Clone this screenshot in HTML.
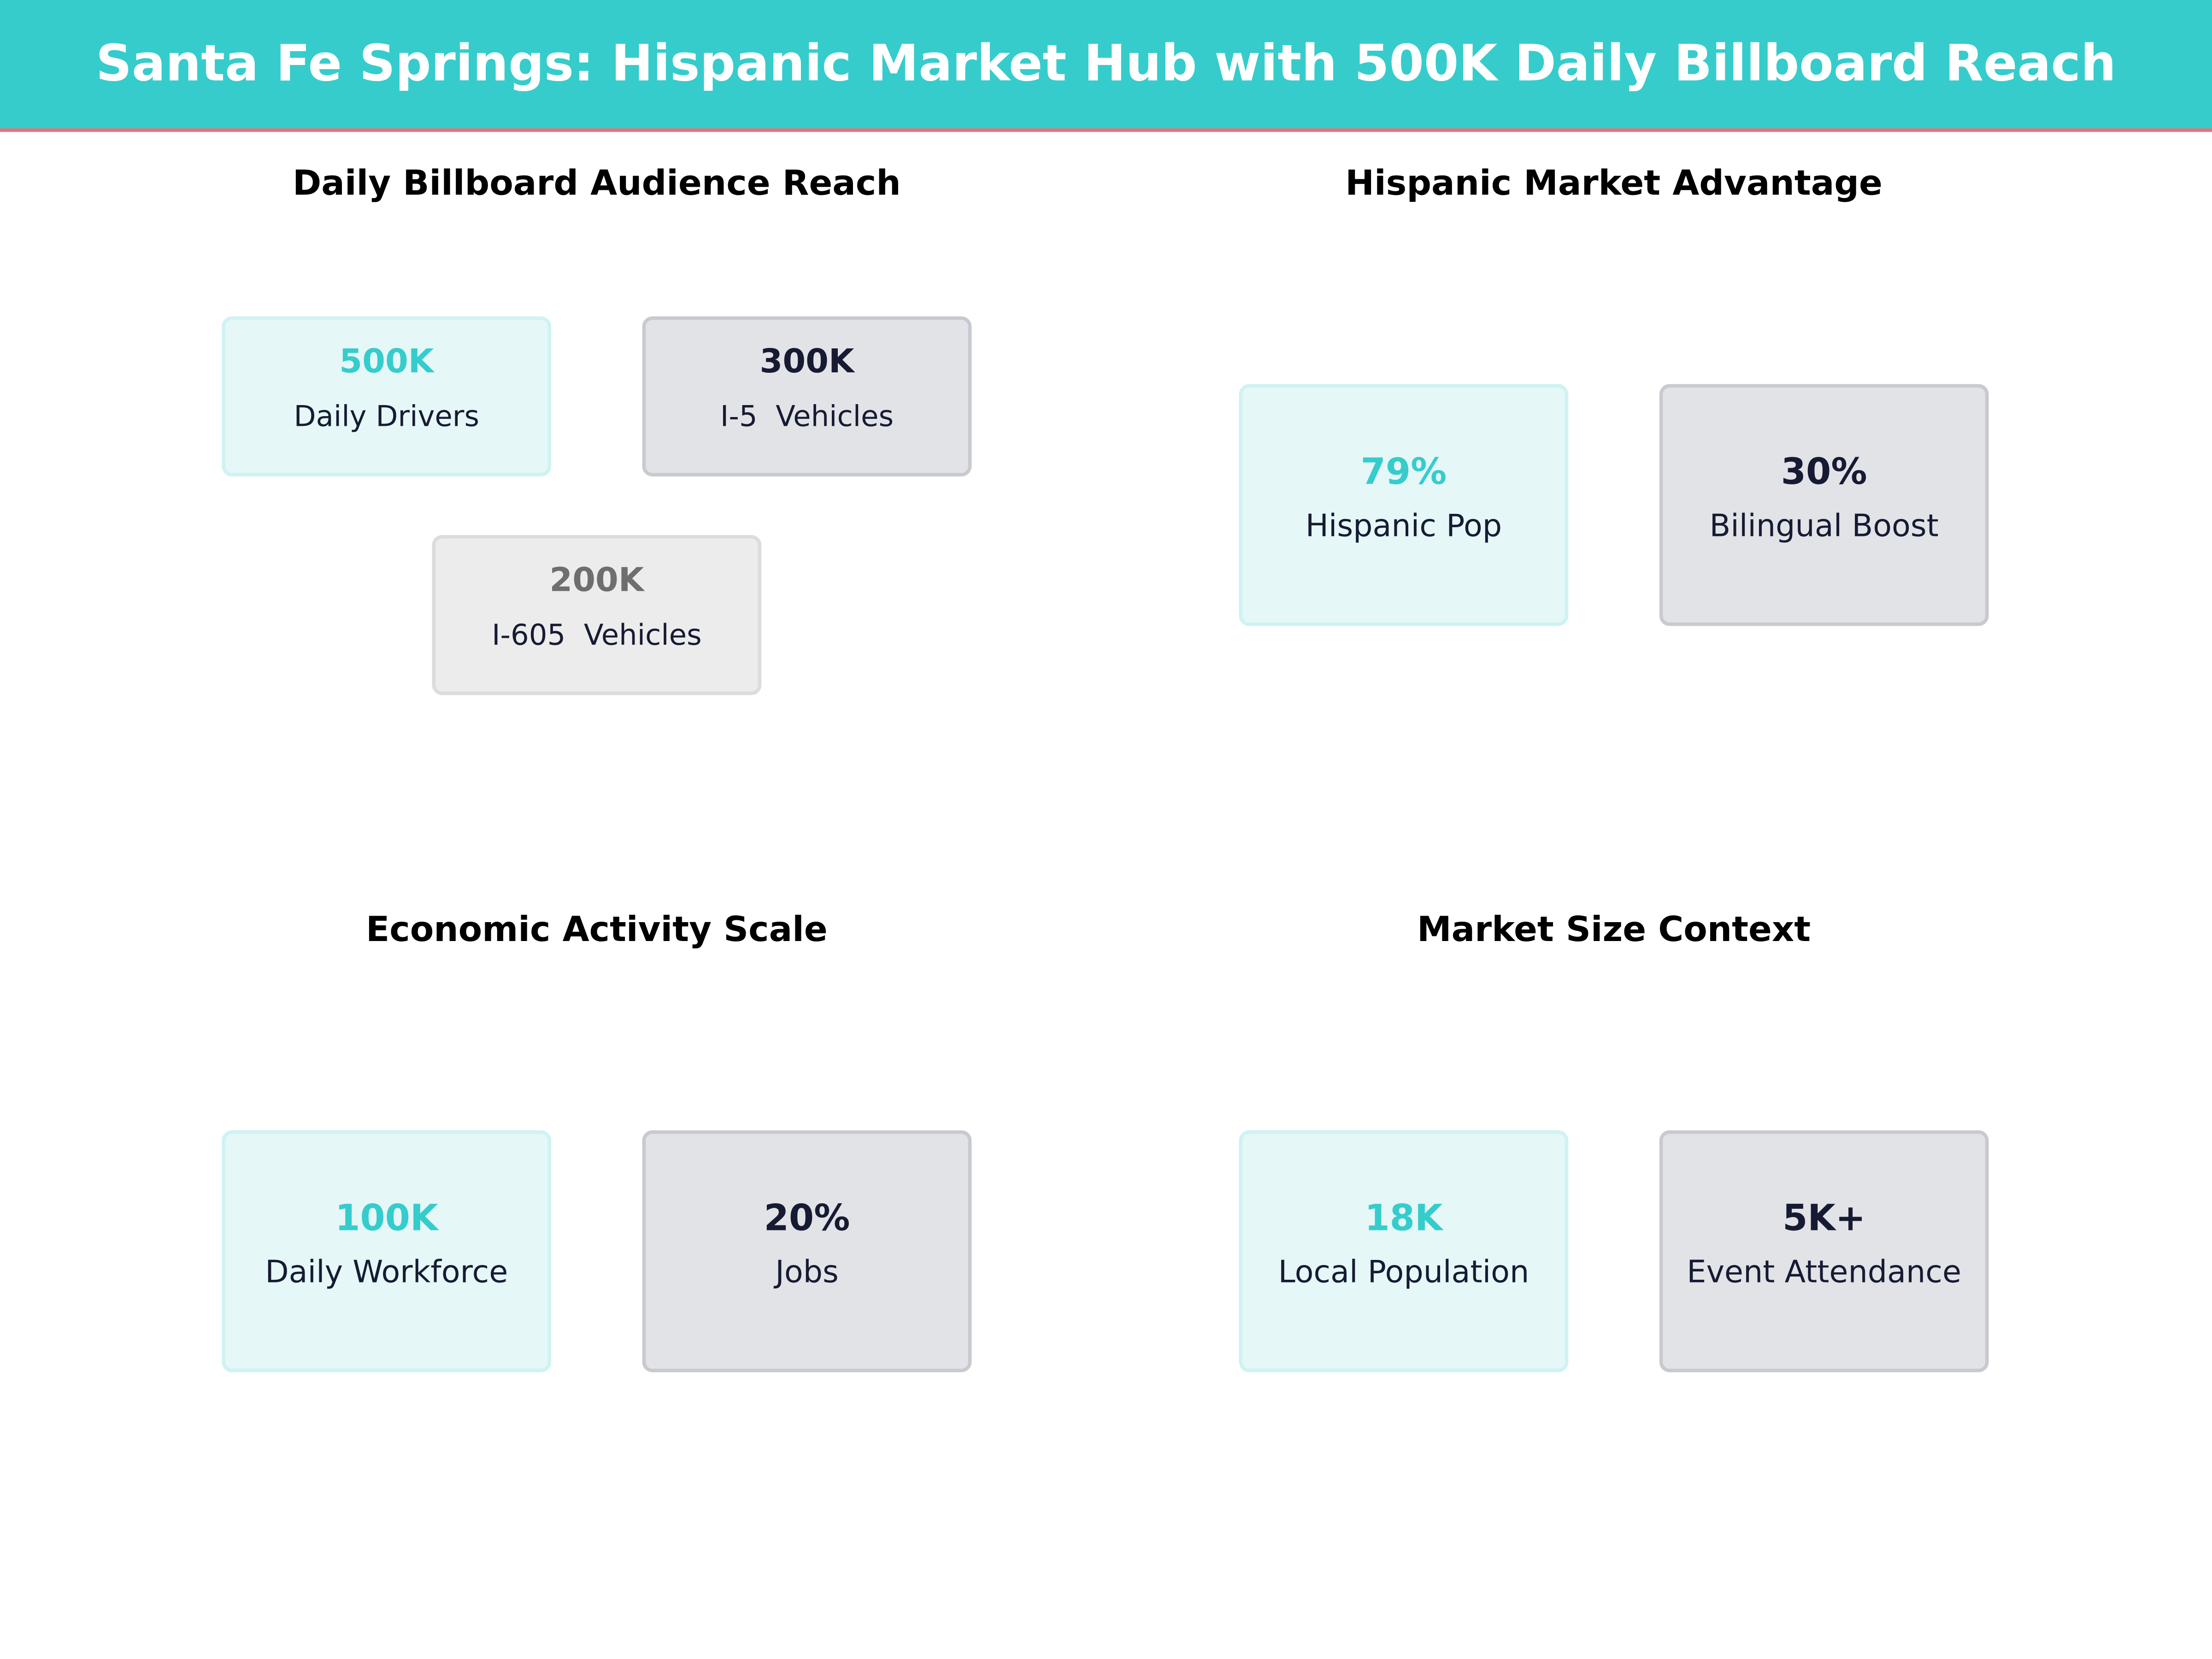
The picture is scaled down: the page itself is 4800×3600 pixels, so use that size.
<!DOCTYPE html>
<html><head><meta charset="utf-8"><style>html,body{margin:0;padding:0;background:#fff}svg{display:block}text{white-space:pre}</style></head>
<body>
<svg width="4800" height="3600" viewBox="0 0 1568 1176" xmlns="http://www.w3.org/2000/svg" font-family="DejaVu Sans, Liberation Sans, sans-serif">
<rect x="0" y="0" width="1568" height="92" fill="#36CCCC"/>
<rect x="0" y="91" width="1568" height="2.5" fill="#E8707A"/>
<text x="784" y="57" text-anchor="middle" font-size="35.4" font-weight="bold" fill="#fff">Santa Fe Springs: Hispanic Market Hub with 500K Daily Billboard Reach</text>
<g font-size="24.5" font-weight="bold" fill="#000" text-anchor="middle">
<text x="423" y="138">Daily Billboard Audience Reach</text>
<text x="1144" y="138">Hispanic Market Advantage</text>
<text x="423" y="667">Economic Activity Scale</text>
<text x="1144" y="667">Market Size Context</text>
</g>
<g stroke-width="2.5">
<rect x="158.5" y="225.5" width="231" height="111" rx="6" fill="#E5F7F7" stroke="#CFF2F2"/>
<rect x="456.5" y="225.5" width="231" height="111" rx="6" fill="#E2E3E7" stroke="#C9CAD0"/>
<rect x="307.5" y="380.5" width="231" height="111" rx="6" fill="#ECECEC" stroke="#DCDCDC"/>
<rect x="879.5" y="273.5" width="231" height="169" rx="6" fill="#E5F7F7" stroke="#CFF2F2"/>
<rect x="1177.5" y="273.5" width="231" height="169" rx="6" fill="#E2E3E7" stroke="#C9CAD0"/>
<rect x="158.5" y="802.5" width="231" height="169" rx="6" fill="#E5F7F7" stroke="#CFF2F2"/>
<rect x="456.5" y="802.5" width="231" height="169" rx="6" fill="#E2E3E7" stroke="#C9CAD0"/>
<rect x="879.5" y="802.5" width="231" height="169" rx="6" fill="#E5F7F7" stroke="#CFF2F2"/>
<rect x="1177.5" y="802.5" width="231" height="169" rx="6" fill="#E2E3E7" stroke="#C9CAD0"/>
</g>
<g font-size="23.4" font-weight="bold" text-anchor="middle">
<text x="274" y="264" fill="#36CCCC">500K</text>
<text x="572" y="264" fill="#161B33">300K</text>
<text x="423" y="419" fill="#6E6E6E">200K</text>
</g>
<g font-size="25.5" font-weight="bold" text-anchor="middle">
<text x="995" y="343" fill="#36CCCC">79%</text>
<text x="1293" y="343" fill="#161B33">30%</text>
<text x="274" y="872" fill="#36CCCC">100K</text>
<text x="572" y="872" fill="#161B33">20%</text>
<text x="995" y="872" fill="#36CCCC">18K</text>
<text x="1293" y="872" fill="#161B33">5K+</text>
</g>
<g font-size="20.4" text-anchor="middle" fill="#161B33">
<text x="274" y="302">Daily Drivers</text>
<text x="572" y="302">I-5  Vehicles</text>
<text x="423" y="457">I-605  Vehicles</text>
</g>
<g font-size="21.8" text-anchor="middle" fill="#161B33">
<text x="995" y="380">Hispanic Pop</text>
<text x="1293" y="380">Bilingual Boost</text>
<text x="274" y="909">Daily Workforce</text>
<text x="572" y="909">Jobs</text>
<text x="995" y="909">Local Population</text>
<text x="1293" y="909">Event Attendance</text>
</g>
</svg>
</body></html>
